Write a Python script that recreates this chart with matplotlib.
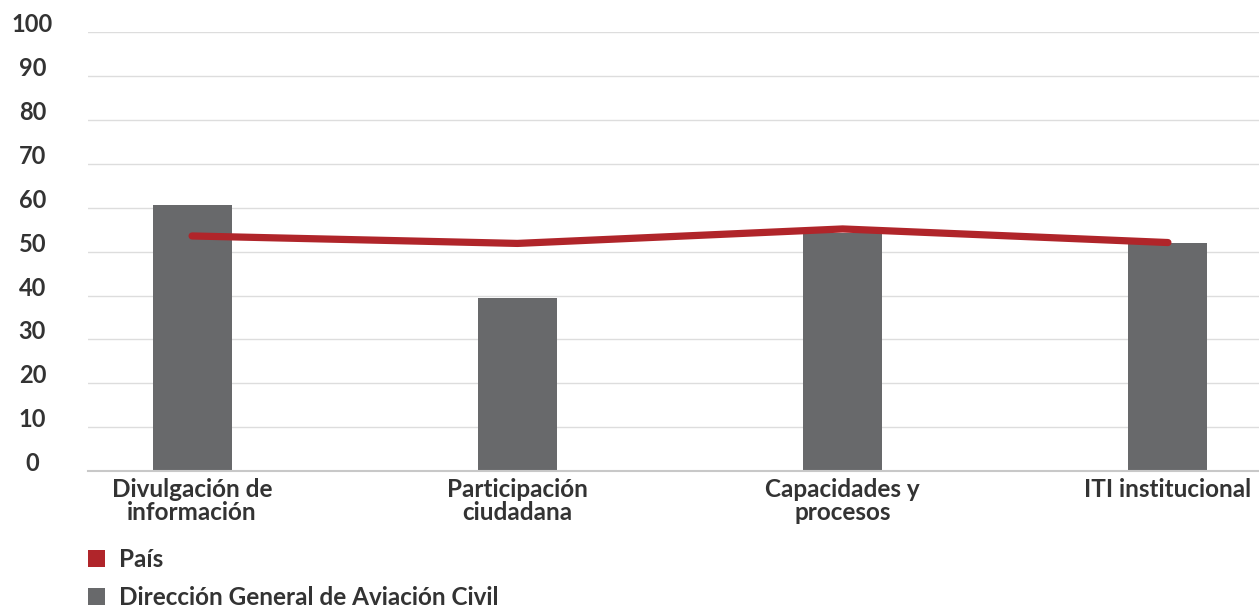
import numpy as np
import matplotlib.pyplot as plt
from matplotlib.patches import Patch

# Datos
categorias = ['Divulgación de\ninformación', 'Participación\nciudadana',
              'Capacidades y\nprocesos', 'ITI institucional']
dgac = [60.7, 39.4, 54.3, 52.1]   # Dirección General de Aviación Civil (barras)
pais = [53.6, 51.9, 55.2, 52.1]   # País (línea)
yticks = [0, 10, 20, 30, 40, 50, 60, 70, 80, 90, 100]

color_barra = '#68696b'
color_linea = '#b0252a'
color_texto = '#333333'

plt.rcParams['font.family'] = ['Lato', 'DejaVu Sans']

fig = plt.figure(figsize=(12.59, 6.07), dpi=100)
ax = fig.add_axes([0.0699, 0.224, 0.9301, 0.7225])

x = np.arange(len(categorias))
ax.bar(x, dgac, width=0.243, color=color_barra, zorder=2)
ax.plot(x, pais, color=color_linea, linewidth=5.2, solid_capstyle='round',
        solid_joinstyle='round', zorder=3)

ax.set_ylim(0, 100)
ax.set_xlim(-0.32, 3.28)
ax.set_yticks(yticks)
ax.set_xticks(x)
ax.set_xticklabels(categorias, fontsize=17.5, color=color_texto, fontweight='bold',
                   linespacing=1.0)
ax.tick_params(axis='x', length=0, pad=5)
ax.tick_params(axis='y', length=0, pad=40, labelsize=17, labelcolor=color_texto)
for t in ax.get_yticklabels():
    t.set_fontweight('bold')
    t.set_horizontalalignment('center')
    t.set_verticalalignment('baseline')

ax.grid(axis='y', color='#dddddd', linewidth=1, zorder=0)
ax.set_axisbelow(True)
for s in ['top', 'right', 'left']:
    ax.spines[s].set_visible(False)
ax.spines['bottom'].set_color('#c8c8c8')
ax.spines['bottom'].set_linewidth(1.5)

handles = [Patch(facecolor=color_linea, label='País'),
           Patch(facecolor=color_barra, label='Dirección General de Aviación Civil')]
leg = fig.legend(handles=handles, loc='upper left', bbox_to_anchor=(0.0625, 0.114),
                 frameon=False, fontsize=17.5, handlelength=0.7, handleheight=0.7,
                 handletextpad=0.55, labelspacing=0.62, borderaxespad=0)
for t in leg.get_texts():
    t.set_color(color_texto)
    t.set_fontweight('bold')

fig.savefig('out.png', dpi=100)
